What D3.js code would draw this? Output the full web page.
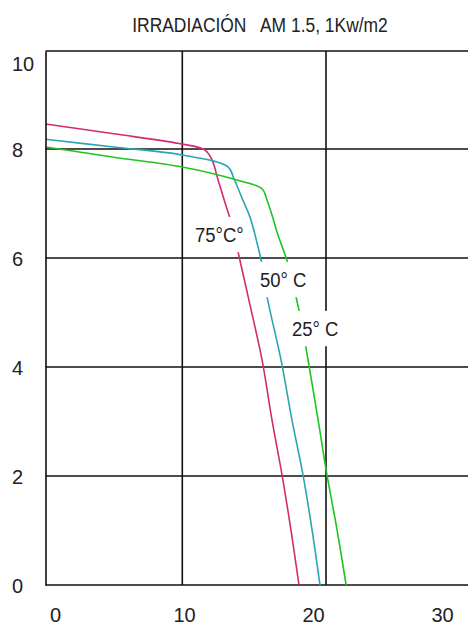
<!DOCTYPE html>
<html>
<head>
<meta charset="utf-8">
<script src="https://cdn.jsdelivr.net/npm/d3@7"></script>
<style>
body { margin: 0; background: #fff; }
text { font-family: "Liberation Sans", Arial, sans-serif; fill: #222; }
</style>
</head>
<body>
<div id="chart"></div>
<script>
var width = 468;
var height = 628;

var title = "IRRADIACIÓN   AM 1.5, 1Kw/m2";
var xTicks = [0, 10, 20, 30];
var yTicks = [0, 2, 4, 6, 8, 10];
var xGrid = [10, 20];
var yGrid = [0, 2, 4, 6, 8, 10];

// curves (x, y pairs)
var t75X = [0, 5, 10, 11.58, 12.07, 12.49, 12.92, 13.39, 13.88, 14.71, 15.55, 16.24, 16.94, 17.56, 18.12];
var t75Y = [8.51, 8.31, 8.1, 7.98, 7.8, 7.43, 7.06, 6.66, 6.11, 5.14, 4.13, 3.03, 2.02, 1.01, 0];
var t50X = [0, 5, 10, 13.18, 13.6, 14.22, 14.71, 15.2, 15.55, 15.89, 16.87, 17.63, 18.4, 19.03, 19.58];
var t50Y = [8.2, 8.04, 7.89, 7.67, 7.45, 7.06, 6.75, 6.28, 5.87, 5.3, 4.13, 3.03, 2.02, 1.01, 0];
var t25X = [0, 5, 10, 13.81, 15.55, 15.9, 16.24, 16.66, 17.29, 17.92, 18.26, 18.75, 19.45, 20.07, 20.77, 21.4];
var t25Y = [8.04, 7.85, 7.67, 7.43, 7.27, 7.06, 6.79, 6.42, 5.95, 5.28, 4.86, 4.13, 3.03, 2.02, 1.01, 0];

var labels = ["75°C°", "50° C", "25° C"];
var colors = ["#d42a72", "#2aa6b2", "#1fc41f"];

var svg = d3
	.select("#chart")
	.append("svg")
	.attr("width", width)
	.attr("height", height);

// the scan is not quite even, so the scales are piecewise
var x = d3.scaleLinear().domain([0, 10, 20, 30]).range([45.5, 182.3, 326, 469.7]);
var y = d3.scaleLinear().domain([0, 8, 10]).range([585, 149, 51]);
var xLabelScale = d3.scaleLinear().domain([0, 30]).range([55, 442]);

// grid
svg
	.append("g")
	.selectAll("line")
	.data(yGrid)
	.enter()
	.append("line")
	.attr("x1", x(0))
	.attr("x2", width)
	.attr("y1", (d) => y(d))
	.attr("y2", (d) => y(d))
	.attr("stroke", "#111")
	.attr("stroke-width", 1.6);

svg
	.append("g")
	.selectAll("line")
	.data(xGrid)
	.enter()
	.append("line")
	.attr("x1", (d) => x(d))
	.attr("x2", (d) => x(d))
	.attr("y1", y(0))
	.attr("y2", y(10))
	.attr("stroke", "#111")
	.attr("stroke-width", 1.6);

// curves
var series = [
	{ xs: t75X, ys: t75Y },
	{ xs: t50X, ys: t50Y },
	{ xs: t25X, ys: t25Y },
];

var line = d3
	.line()
	.x((d) => x(d[0]))
	.y((d) => y(d[1]))
	.curve(d3.curveCatmullRom.alpha(0.5));

series.forEach(function (s, i) {
	var pts = s.xs.map((v, j) => [v, s.ys[j]]);
	svg
		.append("path")
		.datum(pts)
		.attr("d", line)
		.attr("fill", "none")
		.attr("stroke", colors[i])
		.attr("stroke-width", 1.6);
});

// curve labels with a white box that cuts the lines
var labelPos = [
	[195, 242],
	[260, 287],
	[292, 336],
];
labels.forEach(function (t, i) {
	var g = svg
		.append("g")
		.attr("transform", `translate(${labelPos[i][0]},${labelPos[i][1]}) scale(0.88,1)`);
	var rect = g.append("rect").attr("fill", "#fff");
	var txt = g.append("text").text(t).attr("font-size", "21px");
	var b = txt.node().getBBox();
	rect
		.attr("x", b.x - 3)
		.attr("y", b.y - 6)
		.attr("width", b.width + 6)
		.attr("height", b.height + 12);
});

// y axis
var yAxis = svg
	.append("g")
	.attr("transform", `translate(${x(0)},0)`)
	.call(d3.axisLeft(y).tickValues(yTicks).tickSize(0).tickSizeOuter(0).tickFormat(d3.format("d")));
yAxis.select(".domain").attr("stroke", "#111").attr("stroke-width", 1.6);
yAxis
	.selectAll("text")
	.attr("x", 12 - x(0))
	.attr("dy", (d) => (d === 10 ? 19 : 7))
	.attr("text-anchor", "start")
	.attr("font-size", "20px")
	.attr("font-family", '"Liberation Sans", Arial, sans-serif')
	.attr("fill", "#222");

// x axis labels
var xAxis = svg
	.append("g")
	.attr("transform", `translate(0,${y(0)})`)
	.call(d3.axisBottom(xLabelScale).tickValues(xTicks).tickSize(0).tickFormat(d3.format("d")));
xAxis.select(".domain").remove();
xAxis
	.selectAll("text")
	.attr("y", 37)
	.attr("dy", 0)
	.attr("font-size", "20px")
	.attr("font-family", '"Liberation Sans", Arial, sans-serif')
	.attr("fill", "#222");

// title
svg
	.append("text")
	.text(title)
	.attr("transform", "translate(260,32) scale(0.83,1)")
	.attr("text-anchor", "middle")
	.attr("font-size", "21px")
	.style("white-space", "pre");
</script>
</body>
</html>
